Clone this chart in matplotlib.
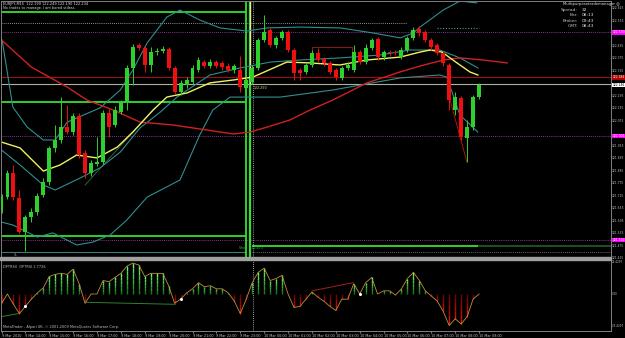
import numpy as np
import matplotlib
matplotlib.use('Agg')
import matplotlib.pyplot as plt
from matplotlib.collections import LineCollection
from matplotlib.transforms import blended_transform_factory

# EURJPY M15, 9 Mar 13:00 -> 10 Mar 09:00 (81 bars)
opens = [121.646, 121.708, 121.824, 121.704, 121.540, 121.612, 121.636, 121.718, 121.780, 121.944,
         121.982, 122.044, 122.020, 122.097, 121.920, 121.824, 121.867, 121.876, 122.112, 122.054,
         122.116, 122.164, 122.328, 122.438, 122.424, 122.342, 122.404, 122.409, 122.419, 122.328,
         122.212, 122.246, 122.260, 122.318, 122.356, 122.337, 122.356, 122.352, 122.337, 122.318,
         122.318, 122.232, 122.260, 122.328, 122.462, 122.510, 122.438, 122.472, 122.500, 122.414,
         122.318, 122.308, 122.342, 122.400, 122.371, 122.352, 122.318, 122.280, 122.328, 122.318,
         122.404, 122.356, 122.424, 122.467, 122.380, 122.404, 122.404, 122.380, 122.414, 122.472,
         122.515, 122.500, 122.462, 122.438, 122.400, 122.342, 122.126, 122.184, 121.992, 122.044,
         122.188]
highs = [121.723, 121.838, 121.862, 121.742, 121.622, 121.656, 121.728, 121.800, 121.953, 122.054,
         122.188, 122.150, 122.112, 122.112, 121.934, 121.886, 121.996, 122.126, 122.136, 122.145,
         122.174, 122.342, 122.443, 122.448, 122.433, 122.428, 122.424, 122.433, 122.428, 122.337,
         122.270, 122.284, 122.342, 122.380, 122.366, 122.371, 122.366, 122.361, 122.352, 122.347,
         122.385, 122.284, 122.342, 122.472, 122.582, 122.520, 122.481, 122.510, 122.510, 122.424,
         122.328, 122.352, 122.414, 122.424, 122.380, 122.361, 122.328, 122.337, 122.356, 122.438,
         122.414, 122.443, 122.472, 122.476, 122.414, 122.414, 122.414, 122.428, 122.481, 122.524,
         122.529, 122.510, 122.472, 122.448, 122.409, 122.352, 122.212, 122.193, 122.078, 122.198,
         122.256]
lows = [121.632, 121.699, 121.694, 121.531, 121.449, 121.588, 121.622, 121.708, 121.766, 121.924,
        121.968, 122.011, 122.006, 121.896, 121.800, 121.809, 121.857, 121.867, 121.996, 122.044,
        122.107, 122.126, 122.246, 122.414, 122.308, 122.308, 122.390, 122.400, 122.318, 122.203,
        122.198, 122.232, 122.251, 122.308, 122.328, 122.328, 122.328, 122.318, 122.308, 122.304,
        122.212, 122.198, 122.251, 122.318, 122.452, 122.428, 122.424, 122.462, 122.404, 122.270,
        122.270, 122.299, 122.332, 122.356, 122.337, 122.299, 122.270, 122.270, 122.318, 122.308,
        122.347, 122.347, 122.414, 122.366, 122.366, 122.385, 122.390, 122.371, 122.404, 122.462,
        122.481, 122.452, 122.414, 122.390, 122.337, 122.126, 122.102, 121.982, 121.876, 122.030,
        122.179]
closes = [121.708, 121.824, 121.708, 121.540, 121.612, 121.636, 121.713, 121.780, 121.944, 121.982,
          122.044, 122.020, 122.097, 121.910, 121.824, 121.872, 121.876, 122.112, 122.044, 122.126,
          122.164, 122.328, 122.428, 122.424, 122.342, 122.404, 122.409, 122.419, 122.328, 122.212,
          122.256, 122.270, 122.328, 122.366, 122.337, 122.356, 122.337, 122.332, 122.318, 122.337,
          122.236, 122.270, 122.328, 122.462, 122.500, 122.438, 122.472, 122.500, 122.414, 122.304,
          122.304, 122.342, 122.400, 122.366, 122.352, 122.308, 122.284, 122.328, 122.342, 122.404,
          122.356, 122.424, 122.462, 122.380, 122.404, 122.400, 122.400, 122.414, 122.472, 122.510,
          122.496, 122.462, 122.428, 122.400, 122.352, 122.174, 122.188, 121.996, 122.044, 122.188,
          122.246]

# moving averages / bollinger bands (bar position, price)
red_ma_x = [0, 5, 11, 14.3, 18.7, 23.2, 28.7, 34.4, 38.8, 41.6, 44.5, 48.3, 51.7, 55.5, 61.2,
            66.7, 70.1, 74, 76.8, 80.7, 84.7]
red_ma = [122.462, 122.332, 122.236, 122.174, 122.126, 122.068, 122.054, 122.030, 122.011, 122.020,
          122.044, 122.078, 122.126, 122.174, 122.256, 122.308, 122.337, 122.366, 122.376, 122.366,
          122.352]
yel_ma_x = [0, 3.1, 7, 9.8, 12.6, 16, 19.4, 22, 25.4, 27.7, 31.1, 34.9, 38.8, 42.1, 47.8, 51.7,
            56.7, 61.2, 66.8, 70.1, 71.8, 73.8, 76.3, 78.5, 79.8]
yel_ma = [121.972, 121.944, 121.833, 121.862, 121.910, 121.896, 121.948, 122.020, 122.126, 122.188,
          122.208, 122.256, 122.270, 122.284, 122.356, 122.352, 122.342, 122.366, 122.380, 122.404,
          122.414, 122.404, 122.352, 122.308, 122.294]
bb_up_x = [0.1, 1.9, 4.3, 7, 9, 11, 16.5, 19.9, 22, 24.4, 27.7, 29.9, 33.2, 36.6, 41.1, 44.5, 50,
           56.7, 62.2, 66.8, 69, 70.1, 74, 76.8, 79.6]
bb_up = [122.462, 122.140, 122.044, 121.982, 121.982, 122.068, 122.136, 122.222, 122.318, 122.448,
         122.572, 122.606, 122.558, 122.520, 122.505, 122.520, 122.524, 122.520, 122.496, 122.472,
         122.496, 122.524, 122.606, 122.649, 122.640]
bb_mid_x = [0, 3.1, 7, 9, 13.2, 16.5, 19.9, 23.2, 26.6, 29.4, 34.9, 40, 45, 50, 56.7, 63.4, 68.4,
            73.4, 76.8, 79.8]
bb_mid = [121.934, 121.862, 121.766, 121.742, 121.800, 121.848, 121.924, 122.040, 122.116, 122.188,
          122.294, 122.328, 122.356, 122.366, 122.376, 122.390, 122.414, 122.414, 122.376, 122.328]
bb_lo_x = [0, 1.9, 6, 8.6, 12.6, 15.3, 18.2, 21, 24.4, 29.9, 33.2, 35.4, 38.3, 41.6, 46.7, 55.5,
           66.8, 73.4, 74.6, 76.8, 79.8]
bb_lo = [121.588, 121.574, 121.516, 121.536, 121.478, 121.492, 121.526, 121.598, 121.708, 121.790,
         122.006, 122.126, 122.188, 122.188, 122.188, 122.222, 122.280, 122.294, 122.284, 122.102,
         122.020]

# DPTRSI sub window
dptrsi = [-7.4, 0.0, -8.2, -15.6, -9.8, -4.1, 0.8, 4.9, 13.9, 15.6, 16.4, 15.6, 19.7, 8.2, -7.4,
          0.0, 0.0, 10.7, 9.8, 13.1, 16.4, 22.1, 24.6, 23.0, 13.9, 16.4, 16.4, 16.4, 6.6, -7.4,
          -4.1, 0.8, 4.1, 9.0, 5.7, 6.6, 4.1, 4.1, 0.8, -5.7, -15.6, -4.1, 9.0, 17.2, 20.5,
          10.7, 12.3, 14.8, 0.0, -10.7, -9.8, -4.1, 1.6, -2.5, -5.7, -9.8, -13.1, -4.1, -4.1, 8.2,
          0.0, 9.0, 13.1, 0.0, 2.5, 2.5, -0.8, 4.1, 12.3, 17.2, 10.7, 2.5, -1.6, -5.7, -13.9,
          -25.0, -19.7, -23.8, -18.0, -4.1, 0.0]

time_labels = ['9 Mar 2010', '9 Mar 14:00', '9 Mar 15:00', '9 Mar 16:00', '9 Mar 17:00',
               '9 Mar 18:00', '9 Mar 19:00', '9 Mar 20:00', '9 Mar 21:00', '9 Mar 22:00',
               '9 Mar 23:00', '10 Mar 00:00', '10 Mar 01:00', '10 Mar 02:00', '10 Mar 03:00',
               '10 Mar 04:00', '10 Mar 05:00', '10 Mar 06:00', '10 Mar 07:00', '10 Mar 08:00',
               '10 Mar 09:00']
price_ticks = [121.415 + 0.06 * k for k in range(21)]
tag_prices = [122.500, 122.284, 122.246, 122.001, 121.502]
tag_texts = ['122.500', '122.284', '122.246', '122.001', '121.502']
tag_bg = ['#ff00ff', '#b00000', '#ffffff', '#ff00ff', '#ff00ff']
tag_fg = ['#ffffff', '#ffffff', '#000000', '#ffffff', '#ffffff']

W, H = 625, 338
fig = plt.figure(figsize=(W / 100, H / 100), dpi=100, facecolor='black')
ax = fig.add_axes([1 / W, (H - 257) / H, 610 / W, 256 / H], facecolor='black')
ax2 = fig.add_axes([1 / W, (H - 331) / H, 610 / W, 71 / H], facecolor='black')
for a in (ax, ax2):
    for s in a.spines.values():
        s.set_color('#808080')
        s.set_linewidth(0.7)
    a.set_xlim(-0.084, 102.1)
ax.set_ylim(121.4204, 122.6492)
ax.set_xticks([])
ax.set_yticks([])
fig.patches.append(plt.Rectangle((0, (H - 260) / H), 611 / W, 3 / H, transform=fig.transFigure,
                                 color='#a0a0a0', zorder=0))

bars = np.arange(len(opens))
o, h, l, c = map(np.array, (opens, highs, lows, closes))
col = np.where(c >= o, '#2ed02e', '#ee1010')

# background levels
ax.hlines(122.596, -1, 41, color='#32e032', lw=1.3)
ax.hlines(122.164, -1, 41, color='#32e032', lw=1.3)
ax.hlines(121.521, -1, 41, color='#32e032', lw=1.3)
ax.hlines(121.473, 42, 79.8, color='#32e032', lw=1.3)
ax.hlines(121.473, 79.8, 103, color='#1d5a1d', lw=1.3)
ax.hlines(122.544, -1, 67.9, color='#c0c0c0', lw=0.6, linestyles=(0, (1, 1.5)))
ax.hlines(122.520, 73, 80, color='#4a9a9a', lw=0.8, linestyles=(0, (1, 1.5)))
ax.axhline(122.500, color='#c040c0', lw=0.6, ls=(0, (1, 1.5)))
ax.axhline(122.284, color='#9a1010', lw=0.8)
ax.axhline(122.251, color='#b0b0a0', lw=0.8)
ax.axhline(122.001, color='#c040c0', lw=0.6, ls=(0, (1, 1.5)))
ax.axhline(121.502, color='#c040c0', lw=0.6, ls=(0, (1, 1.5)))
ax.hlines(121.444, -1, 41, color='#3a7a7a', lw=0.8)
ax.hlines(121.444, 42, 103, color='#909090', lw=0.6, linestyles=(0, (1, 1.5)))

ax.axvline(40.95, color='#32e032', lw=1.3)
ax.axvline(41.55, color='#32e032', lw=1.6)
ax.vlines(41.6, 122.25, 122.65, color='#e8e8a0', lw=0.9)
ax.axvline(42.05, color='#d0d0d0', lw=0.6, ls=(0, (1, 1.5)))
ax2.axvline(42.05, color='#d0d0d0', lw=0.6, ls=(0, (1, 1.5)))

# small box and trend lines
ax.plot([52, 52, 58.7, 58.7], [122.352, 122.428, 122.428, 122.352], color='#8b1a1a', lw=0.7)
ax.plot([75, 77.97], [122.188, 121.876], color='#d01010', lw=0.6)
ax.plot([14, 25.7], [121.766, 122.136], color='#3f6f3f', lw=0.6)

# indicators
ax.plot(bb_up_x, bb_up, color='#2f8f8f', lw=0.8)
ax.plot(bb_mid_x, bb_mid, color='#2f8f8f', lw=0.8)
ax.plot(bb_lo_x, bb_lo, color='#2f8f8f', lw=0.8)
ax.plot(red_ma_x, red_ma, color='#d02020', lw=1.0)
ax.plot(yel_ma_x, yel_ma, color='#f0f060', lw=1.0)

# candles
ax.vlines(bars, l, h, colors=col, lw=0.7, zorder=3)
ax.bar(bars, np.maximum(np.abs(c - o), 0.003), bottom=np.minimum(o, c), width=0.66,
       color=col, linewidth=0, zorder=4)

ax.text(42.2, 122.243, '122.250', color='#e8e8a0', fontsize=2.3, va='top', ha='left')
ax.text(39.8, 121.462, 'Short  121.473', color='#32c032', fontsize=2.3, va='center', ha='left')
ax.text(2, 121.432, 'SL', color='#a0a0a0', fontsize=2.3, va='center', ha='left')

# right price scale (labels hidden behind the coloured tags are skipped)
tr = blended_transform_factory(ax.transAxes, ax.transData)
for p in price_ticks:
    if min(abs(p - t) for t in tag_prices) < 0.025:
        continue
    ax.text(1.0015, p, f'{p:.3f}', transform=tr, color='#c0c0c0', fontsize=2.2, va='center',
            ha='left', clip_on=False)
for p, t, bg, fg in zip(tag_prices, tag_texts, tag_bg, tag_fg):
    ax.text(1.0025, p, t, transform=tr, color=fg, fontsize=2.2, va='center', ha='left',
            bbox=dict(boxstyle='square,pad=0.15', fc=bg, ec='none'), clip_on=False)

# sub window: gradient histogram + line
v = np.array(dptrsi)
ax2.set_ylim(-29.4, 27.0)
segs, cols = [], []
n = 6
for i, val in zip(bars, v):
    for k in range(n):
        segs.append([(i, val * k / n), (i, val * (k + 1) / n)])
        f = (k + 0.5) / n
        if val >= 0:
            cols.append((0.05 + 0.4 * f, 0.45 + 0.55 * f, 0.05 + 0.4 * f))
        else:
            cols.append((0.4 + 0.6 * f, 0.05 * f, 0.0))
ax2.add_collection(LineCollection(segs, colors=cols, linewidths=1.0))
ax2.plot(bars, v, color='#c0903c', lw=0.6)
ax2.plot([0, 2.8], [-18.0, -15.6], color='#2f7f2f', lw=0.7)
ax2.plot([14, 29.1], [-6.6, -8.2], color='#2f7f2f', lw=0.7)
ax2.plot([52, 58.9], [2.5, 9.0], color='#a02020', lw=0.7)
ax2.plot([4, 30, 60], [v[4], v[30], v[60]], 'o', color='white', ms=1.2)

tr2 = blended_transform_factory(ax2.transAxes, ax2.transData)
for p, t in zip([25.4297, 0.0, -25.4297], ['25.4297', '0.00', '-25.4297']):
    ax2.text(1.0015, p, t, transform=tr2, color='#c0c0c0', fontsize=2.0, va='center', ha='left',
             clip_on=False)
ax2.set_yticks([])
ax2.set_xticks(bars[::4])
ax2.set_xticklabels(time_labels, fontsize=2.4, color='#c0c0c0', ha='left')
ax2.tick_params(axis='x', length=1.5, color='#808080', pad=0.8)

ax2.text(0.004, 0.93, 'DPTRSI)  DPTRSI 1.7726', transform=ax2.transAxes, color='#c0c0c0',
         fontsize=2.5, va='top', ha='left')
ax2.text(0.004, 0.03, 'MetaTrader - Alpari UK, \u00a9 2001-2009 MetaQuotes Software Corp.',
         transform=ax2.transAxes, color='#c0c0c0', fontsize=2.5, va='bottom', ha='left')

# header texts
fig.text(3 / W, 1 - 2 / H, 'EURJPY,M15  122.199 122.249 122.190 122.234', color='#e0e0e0',
         fontsize=2.5, va='top', ha='left')
fig.text(3 / W, 1 - 6.5 / H, 'No trades to manage. I am bored stiless.', color='#e0e0e0',
         fontsize=2.5, va='top', ha='left')
fig.text(563 / W, 1 - 4 / H, 'Multipurposetrademanager \u25ce', color='#e0e0e0', fontsize=2.7,
         va='center', ha='left')
for k, (lab, val) in enumerate([('Spread:', '32'), ('Bar:', '08:13'), ('Broker:', '09:43'),
                                ('GMT:', '08:43')]):
    y = 1 - (10 + 5.3 * k) / H
    fig.text(578 / W, y, lab, color='#c0c0c0', fontsize=3.2, va='center', ha='right')
    fig.text(582 / W, y, val, color='#e0e0e0', fontsize=3.2, va='center', ha='left')

fig.savefig('out.png', dpi=100, facecolor='black')
